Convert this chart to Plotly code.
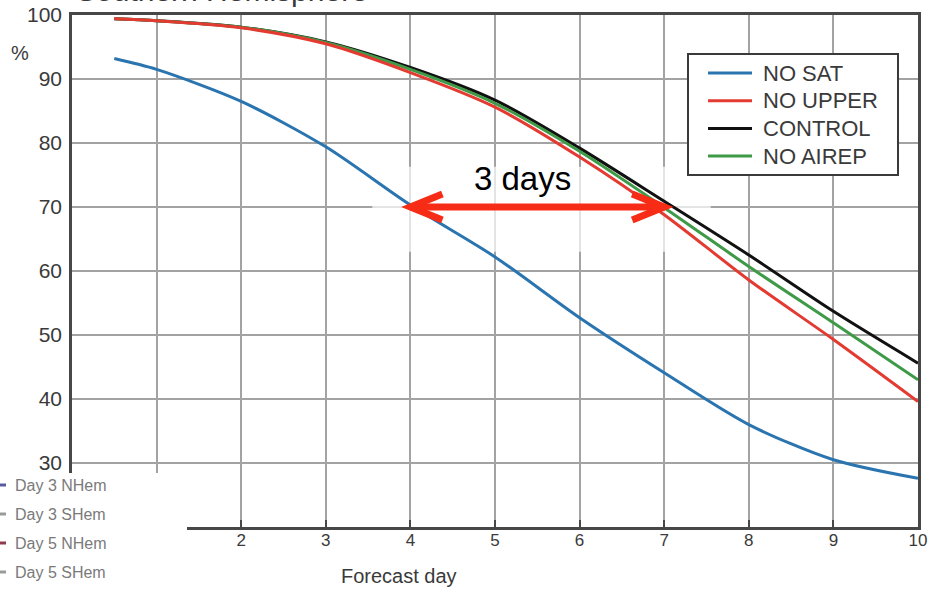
import plotly.graph_objects as go

# ---- data -------------------------------------------------------------
days = [0.5, 1, 2, 3, 4, 5, 6, 7, 8, 9, 10]
no_sat = [93.2, 91.5, 86.5, 79.4, 70.3, 62.2, 52.7, 44.1, 36.0, 30.5, 27.6]
no_upper = [99.4, 99.1, 98.0, 95.5, 91.0, 85.6, 77.8, 68.8, 58.6, 49.3, 39.6]
control = [99.4, 99.1, 98.1, 95.8, 91.8, 86.7, 79.2, 70.9, 62.5, 53.7, 45.6]
no_airep = [99.4, 99.1, 98.1, 95.7, 91.5, 86.2, 78.7, 69.9, 60.7, 51.9, 43.0]

series_names = ["NO SAT", "NO UPPER", "CONTROL", "NO AIREP"]
x_ticks = [1, 2, 3, 4, 5, 6, 7, 8, 9, 10]
y_ticks = [30, 40, 50, 60, 70, 80, 90, 100]

# skill lost without satellites, measured at the 70% level
gain_from, gain_to, gain_level = 4, 7, 70
gain_label = "3 days"

inset_labels = ["Day 3 NHem", "Day 3 SHem", "Day 5 NHem", "Day 5 SHem"]

# ---- styling ------------------------------------------------------------
W, H = 932, 592
L, R, T, B = 72, 14, 15, 65
PW, PH = W - L - R, H - T - B

series_values = [no_sat, no_upper, control, no_airep]
series_colors = ["#2a74b0", "#e33a32", "#111111", "#3f9a47"]
draw_order = ["CONTROL", "NO AIREP", "NO UPPER", "NO SAT"]
inset_colors = ["#5a5aa0", "#9a9a9a", "#8e3a4c", "#9a9a9a"]

BASE_FONT = "Liberation Sans, Arial, Helvetica, sans-serif"
AXIS_COL = "#474747"
GRID_COL = "#a3a3a3"
TEXT_COL = "#3a3a3a"
ARROW_COL = "#f72c16"


def px(p):
    """page pixel column -> paper x"""
    return (p - L) / PW


def py(p):
    """page pixel row -> paper y"""
    return (H - B - p) / PH


fig = go.Figure()

for name in draw_order:
    i = series_names.index(name)
    fig.add_trace(go.Scatter(
        x=days, y=series_values[i], name=name, mode="lines",
        line=dict(color=series_colors[i], width=3, shape="spline", smoothing=0.8),
        showlegend=False, hoverinfo="x+y+name",
    ))

shapes = []
annotations = []

# faint white backing behind the arrow and its label
shapes.append(dict(
    type="rect", xref="x", yref="y", layer="between",
    x0=gain_from - 0.45, x1=gain_to + 0.55,
    y0=gain_level - 7.0, y1=gain_level + 6.3,
    fillcolor="rgba(255,255,255,0.7)", line=dict(width=0),
))

# double-headed arrow between the two curves
shapes.append(dict(
    type="line", xref="x", yref="y", layer="above",
    x0=gain_from, x1=gain_to, y0=gain_level, y1=gain_level,
    line=dict(color=ARROW_COL, width=7),
))
for anchor, sgn in ((gain_from, 1), (gain_to, -1)):
    shapes.append(dict(
        type="path", xref="x", yref="y", layer="above",
        xsizemode="pixel", ysizemode="pixel",
        xanchor=anchor, yanchor=gain_level,
        path=f"M{sgn * 32},13 L0,0 L{sgn * 32},-13",
        line=dict(color=ARROW_COL, width=7),
    ))

annotations.append(dict(
    x=(gain_from + gain_to) / 2, y=gain_level, xref="x", yref="y",
    text=gain_label, showarrow=False, xanchor="center", yanchor="middle",
    xshift=-15, yshift=29,
    font=dict(family=BASE_FONT, size=33, color="#000000"),
))

# legend box
shapes.append(dict(
    type="rect", xref="paper", yref="paper", layer="above",
    x0=px(688), x1=px(898), y0=py(175), y1=py(54),
    fillcolor="white", line=dict(color="#3a3a3a", width=2),
))
for k, name in enumerate(series_names):
    yrow = 73 + k * 27.7
    shapes.append(dict(
        type="line", xref="paper", yref="paper", layer="above",
        x0=px(708), x1=px(752), y0=py(yrow), y1=py(yrow),
        line=dict(color=series_colors[k], width=3),
    ))
    annotations.append(dict(
        x=px(761), y=py(yrow), xref="paper", yref="paper",
        text=name, showarrow=False, xanchor="left", yanchor="middle",
        font=dict(family=BASE_FONT, size=22, color=TEXT_COL),
    ))

# inset key in the lower-left corner
shapes.append(dict(
    type="rect", xref="paper", yref="paper", layer="above",
    x0=px(-2), x1=px(187), y0=py(H + 2), y1=py(473),
    fillcolor="white", line=dict(width=0),
))
for k, lab in enumerate(inset_labels):
    yrow = 485 + k * 29
    shapes.append(dict(
        type="line", xref="paper", yref="paper", layer="above",
        x0=px(0), x1=px(6), y0=py(yrow), y1=py(yrow),
        line=dict(color=inset_colors[k], width=3),
    ))
    annotations.append(dict(
        x=px(13), y=py(yrow), xref="paper", yref="paper",
        text=lab, showarrow=False, xanchor="left", yanchor="middle",
        font=dict(family=BASE_FONT, size=16, color="#7a7a7a"),
    ))

# panel title, running off the top of the page
annotations.append(dict(
    x=px(74), y=py(9.5), xref="paper", yref="paper",
    text="Southern Hemisphere", showarrow=False,
    xanchor="left", yanchor="bottom",
    font=dict(family=BASE_FONT, size=30, color=TEXT_COL),
))

# unit label
annotations.append(dict(
    x=px(20), y=py(53), xref="paper", yref="paper",
    text="%", showarrow=False, xanchor="center", yanchor="middle",
    font=dict(family=BASE_FONT, size=20, color=TEXT_COL),
))

# x-axis title
annotations.append(dict(
    x=px(399), y=py(576), xref="paper", yref="paper",
    text="Forecast day", showarrow=False, xanchor="center", yanchor="middle",
    font=dict(family=BASE_FONT, size=20, color=TEXT_COL),
))

fig.update_layout(
    width=W, height=H,
    margin=dict(l=L, r=R, t=T, b=B, pad=0, autoexpand=False),
    paper_bgcolor="white", plot_bgcolor="white",
    font=dict(family=BASE_FONT, color=TEXT_COL),
    showlegend=False,
    shapes=shapes, annotations=annotations,
    xaxis=dict(
        range=[0, 10], tickvals=x_ticks, ticktext=[str(v) for v in x_ticks],
        showgrid=True, gridcolor=GRID_COL, gridwidth=1.7,
        showline=True, linecolor=AXIS_COL, linewidth=2.5, mirror=True,
        ticks="inside", ticklen=7, tickwidth=1.6, tickcolor=AXIS_COL,
        ticklabelstandoff=-4,
        tickfont=dict(family=BASE_FONT, size=17, color=TEXT_COL),
        zeroline=False, fixedrange=True, automargin=False,
    ),
    yaxis=dict(
        range=[20, 100], tickvals=y_ticks, ticktext=[str(v) for v in y_ticks],
        showgrid=True, gridcolor=GRID_COL, gridwidth=1.7,
        showline=True, linecolor=AXIS_COL, linewidth=2.5, mirror=True,
        ticks="", ticklabelstandoff=3,
        tickfont=dict(family=BASE_FONT, size=21, color=TEXT_COL),
        zeroline=False, fixedrange=True, automargin=False,
    ),
)

fig.write_html("out.html")
